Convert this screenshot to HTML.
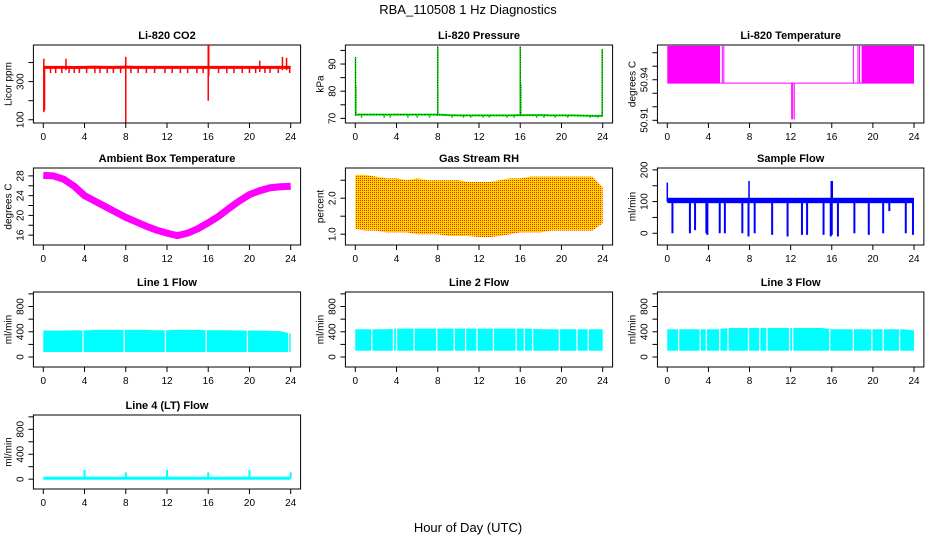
<!DOCTYPE html>
<html><head><meta charset="utf-8"><style>
html,body{margin:0;padding:0;background:#fff;}
svg{display:block;font-family:"Liberation Sans",Arial,sans-serif;}
</style></head><body>
<svg id="chart" width="936" height="540" viewBox="0 0 936 540">
<defs>
<pattern id="rhpat" width="2" height="2" patternUnits="userSpaceOnUse">
<rect width="2" height="2" fill="#ffd800"/><rect width="1" height="1" fill="#ff2000"/>
</pattern>
</defs>
<text x="468" y="14" font-size="13" text-anchor="middle">RBA_110508  1 Hz Diagnostics</text>
<text x="468" y="532" font-size="13" text-anchor="middle">Hour of Day (UTC)</text>
</svg>
<script>
// ---- data ----
const xTicks=[0,4,8,12,16,20,24];
const co2Base=[375,375,375,374,375,376,375,375,376,375,375,375,375,375,375,375,375,375,375,375,375,375,375,375,375];
const co2Spikes=[[0.05,140,420],[0.12,150,380],[2.2,360,420],[8.0,85,430],[16.0,200,492],[16.05,330,492],[21.0,350,410],[23.2,360,430],[23.6,360,425]];
const co2Dips=[0.7,1.2,1.8,2.5,3.0,3.5,4.2,5.0,5.5,6.2,6.8,7.5,8.5,9.2,10.0,10.8,11.8,12.5,13.3,14.0,14.9,15.5,17.0,17.8,18.5,19.3,20.0,20.6,21.5,22.0,22.8,23.9];
const presBase=[71.4,71.4,71.4,71.4,71.4,71.4,71.4,71.4,71.4,71.2,71.1,71.1,71.1,71.1,71.1,71.1,71.2,71.2,71.2,71.1,71.1,71.1,71.0,70.9,70.9];
const presSpikes=[[0.02,92.5],[0.05,82],[8.0,96.5],[16.0,96.5],[16.05,83],[23.95,95.5]];
const presDips=[0.6,2.8,3.4,5.1,6.0,7.2,9.4,10.5,11.2,12.4,13.0,14.7,15.4,17.6,18.3,19.4,20.6,22.8,23.5];
const tempBands=[[0,5.13],[18.9,24]];
const tempLines=[5.35,5.5,18.1,18.55,18.7];
const tempDips=[12.1,12.2,12.35];
const tempHigh=50.965, tempLow=50.9375, tempDipVal=50.9107;
const ambHours=[0,1,2,3,4,5,6,7,8,9,10,11,12,13,14,15,16,17,18,19,20,21,22,23,24];
const ambTemp=[28.1,28.0,27.3,25.9,24.0,22.9,21.8,20.7,19.6,18.7,17.8,17.0,16.4,15.9,16.4,17.3,18.5,19.8,21.4,22.9,24.2,25.0,25.6,25.8,25.9];
const rhTop=[2.65,2.65,2.6,2.55,2.55,2.5,2.55,2.5,2.5,2.5,2.5,2.45,2.45,2.45,2.5,2.55,2.55,2.6,2.6,2.6,2.6,2.6,2.6,2.6,2.3];
const rhLow=[1.15,1.1,1.1,1.05,1.05,1.05,1.0,1.0,1.0,0.95,0.95,0.95,0.92,0.92,0.95,1.0,1.05,1.05,1.05,1.1,1.1,1.1,1.1,1.1,1.3];
const flowBandLow=95, flowBandHigh=112;
const flowDrops=[[0.5,0],[2.2,0],[2.7,10],[3.8,0],[3.9,-5],[5.1,0],[5.6,0],[7.3,0],[7.9,-10],[8.5,0],[10.2,-5],[11.7,-10],[13.1,-5],[13.6,-5],[15.2,-5],[15.9,-10],[16.0,-5],[16.6,-10],[18.2,0],[19.6,-5],[21.0,0],[21.6,70],[23.2,0],[23.9,-5]];
const flowPeaks=[[0.0,160],[7.95,165],[15.95,165],[16.05,165]];
const l1Low=80, l1High=[420,420,420,425,420,430,430,430,430,430,430,425,425,430,430,430,425,425,425,420,420,420,415,410,370];
const l1Gaps=[3.85,7.85,11.85,15.8,19.8,23.8];
const l2Low=100, l2High=[440,440,440,440,450,450,450,450,450,450,450,450,450,450,450,450,450,450,440,440,440,440,440,440,440];
const l2Gaps=[1.6,3.7,4.0,5.7,7.9,9.6,10.7,11.8,13.4,15.6,16.4,17.2,19.8,21.5,22.6];
const l3Low=100, l3High=[440,440,440,440,440,440,460,460,460,460,460,460,460,460,460,460,440,440,440,440,440,440,440,440,420];
const l3Gaps=[1.1,3.2,3.8,5.1,5.9,7.9,9.0,9.7,11.9,12.2,15.8,18.1,19.9,21.0,22.6];
const l4Base=15;
const l4Spikes=[[4,150],[8,110],[12,150],[16,110],[20,150],[24,110]];

// ---- layout ----
const NS="http://www.w3.org/2000/svg";
const svg=document.getElementById('chart');
const colX=[[43.3,290.7],[355.3,602.7],[667.3,914]];
const rowY=[[45,123],[168,245],[292,367],[415,489]];
function el(tag,attrs,parent){const e=document.createElementNS(NS,tag);for(const k in attrs)e.setAttribute(k,attrs[k]);(parent||svg).appendChild(e);return e;}
function panel(c,r,ylim,yticks,ylabs,title,ylab,name){
  const g=el('g',{});
  
  
  const [x0,x24]=colX[c],[yt,yb]=rowY[r];
  const pad=(x24-x0)/24*0.96;
  const L=x0-pad,R=x24+pad;
  const P={g,L,R,yt,yb,x:h=>x0+h*(x24-x0)/24,y:v=>yb-(v-ylim[0])/(ylim[1]-ylim[0])*(yb-yt)};
  const box=el('rect',{x:L,y:yt,width:R-L,height:yb-yt,fill:'none',stroke:'#000','stroke-width':1},g);
  
  
  const t=el('text',{x:(L+R)/2,y:yt-6,'font-size':11,'font-weight':'bold','text-anchor':'middle'},g);t.textContent=title;
  
  
  const yl=el('text',{transform:`translate(${L-22},${(yt+yb)/2}) rotate(-90)`,'font-size':10,'text-anchor':'middle'},g);yl.textContent=ylab;
  
  
  xTicks.forEach(h=>{
    const tk=el('line',{x1:P.x(h),x2:P.x(h),y1:yb,y2:yb+5,stroke:'#000'},g);
    
    
    const tl=el('text',{x:P.x(h),y:yb+17,'font-size':10,'text-anchor':'middle'},g);tl.textContent=h;
    
    
  });
  yticks.forEach(v=>{
    const tk=el('line',{x1:L-5,x2:L,y1:P.y(v),y2:P.y(v),stroke:'#000'},g);
    
    
  });
  ylabs.forEach(v=>{
    const tl=el('text',{transform:`translate(${L-10},${P.y(v)}) rotate(-90)`,'font-size':10,'text-anchor':'middle'},g);tl.textContent=v;
    
    
  });
  return P;
}
function vline(P,h,v1,v2,color,w,name){const l=el('line',{x1:P.x(h),x2:P.x(h),y1:P.y(v1),y2:P.y(v2),stroke:color,'stroke-width':w},P.g);
  
  return l;}
function hourPoly(P,vals,color,w,name){const pts=vals.map((v,i)=>P.x(i)+','+P.y(v)).join(' ');
  const p=el('polyline',{points:pts,fill:'none',stroke:color,'stroke-width':w},P.g);
  
  return p;}
function band(P,low,highs,gaps,color,name){
  const top=highs.map((v,i)=>P.x(i)+','+P.y(v));
  const pts=[P.x(0)+','+P.y(low),...top,P.x(24)+','+P.y(low)].join(' ');
  const p=el('polygon',{points:pts,fill:color},P.g);
  
  
  gaps.forEach(h=>{const gl=el('line',{x1:P.x(h),x2:P.x(h),y1:P.y(low)+1,y2:P.y(Math.max(...highs))-2,stroke:'#fff','stroke-width':1.3},P.g);
    
    });
}

// CO2
let P=panel(0,0,[83,492],[100,200,300,400],[100,300],'Li-820 CO2','Licor ppm','co2');
co2Dips.forEach(h=>vline(P,h,345,375,'#ff0000',1.5,'co2-dip'));
co2Spikes.forEach(s=>vline(P,s[0],s[1],s[2],'#ff0000',1.5,'co2-spike'));
hourPoly(P,co2Base,'#ff0000',3,'co2-line');

// Pressure
P=panel(1,0,[68.3,97],[70,75,80,85,90,95],[70,80,90],'Li-820 Pressure','kPa','pressure');
presDips.forEach(h=>vline(P,h,70.2,71.2,'#00dd00',1.5,'pressure-dip'));
hourPoly(P,presBase,'#00dd00',2,'pressure-line');
hourPoly(P,presBase,'#000',0.8,'pressure-line-dots').setAttribute('stroke-dasharray','1 2');
presSpikes.forEach(s=>{vline(P,s[0],71,s[1],'#00dd00',1.5,'pressure-spike');vline(P,s[0],71,s[1],'#000',0.8,'pressure-spike-dots').setAttribute('stroke-dasharray','1 1.5');});

// Li-820 Temperature
P=panel(2,0,[50.908,50.9657],[50.91,50.92,50.93,50.94,50.95,50.96],[50.91,50.94],'Li-820 Temperature','degrees C','li-temp');
tempBands.forEach(b=>{const r=el('rect',{x:P.x(b[0]),y:P.y(tempHigh),width:P.x(b[1])-P.x(b[0]),height:P.y(tempLow)-P.y(tempHigh),fill:'#ff00ff'},P.g);
  
  });
tempLines.forEach(h=>vline(P,h,tempLow,tempHigh,'#ff00ff',1,'li-temp-line'));
tempDips.forEach(h=>vline(P,h,tempLow,tempDipVal,'#ff00ff',1,'li-temp-dip'));
{const l=el('line',{x1:P.x(0),x2:P.x(24),y1:P.y(tempLow),y2:P.y(tempLow),stroke:'#ff00ff','stroke-width':1},P.g);

}

// Ambient
P=panel(0,1,[14,29.6],[16,18,20,22,24,26,28],[16,20,24,28],'Ambient Box Temperature','degrees C','ambient');
{const pts=ambHours.map((h,i)=>P.x(h)+','+P.y(ambTemp[i])).join(' ');
const pl=el('polyline',{points:pts,fill:'none',stroke:'#ff00ff','stroke-width':7,'stroke-linejoin':'round'},P.g);

}

// RH
P=panel(1,1,[0.7,2.84],[1.0,1.5,2.0,2.5],['1.0','2.0'],'Gas Stream RH','percent','rh');
{const top=rhTop.map((v,i)=>P.x(i)+','+P.y(v));const bot=rhLow.map((v,i)=>P.x(i)+','+P.y(v)).reverse();
const pg=el('polygon',{points:[...top,...bot].join(' '),fill:'url(#rhpat)'},P.g);

}

// Sample flow
P=panel(2,1,[-37,206],[0,50,100,150,200],[0,100,200],'Sample Flow','ml/min','sample-flow');
{const r=el('rect',{x:P.x(0),y:P.y(flowBandHigh),width:P.x(24)-P.x(0),height:P.y(flowBandLow)-P.y(flowBandHigh),fill:'#0000ff'},P.g);

}
flowDrops.forEach(d=>vline(P,d[0],100,d[1],'#0000ff',2,'sample-flow-drop'));
flowPeaks.forEach(d=>vline(P,d[0],100,d[1],'#0000ff',1.5,'sample-flow-peak'));

// Line flows
const fl=[-158,1030],ft=[0,200,400,600,800,1000],fl2=[0,400,800];
P=panel(0,2,fl,ft,fl2,'Line 1 Flow','ml/min','line1');band(P,l1Low,l1High,l1Gaps,'#00ffff','line1-band');
P=panel(1,2,fl,ft,fl2,'Line 2 Flow','ml/min','line2');band(P,l2Low,l2High,l2Gaps,'#00ffff','line2-band');
P=panel(2,2,fl,ft,fl2,'Line 3 Flow','ml/min','line3');band(P,l3Low,l3High,l3Gaps,'#00ffff','line3-band');
P=panel(0,3,fl,ft,fl2,'Line 4 (LT) Flow','ml/min','line4');
{const l=el('line',{x1:P.x(0),x2:P.x(24),y1:P.y(l4Base),y2:P.y(l4Base),stroke:'#00ffff','stroke-width':3},P.g);

}
l4Spikes.forEach(s=>vline(P,s[0],l4Base,s[1],'#00ffff',2,'line4-spike'));
</script>
</body></html>
